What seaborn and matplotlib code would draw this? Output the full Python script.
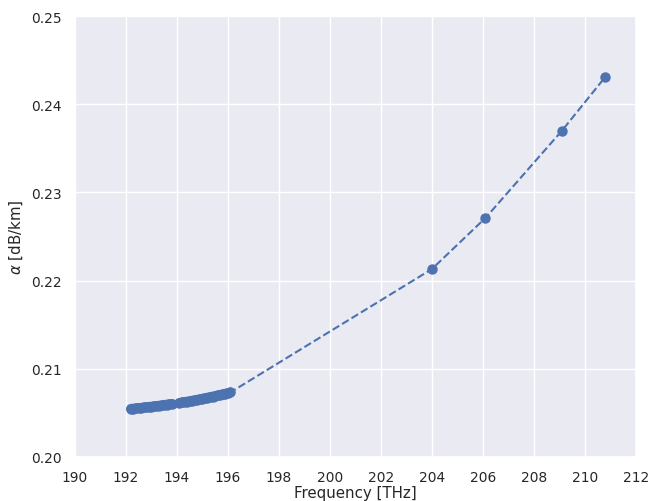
import numpy as np
import seaborn as sns
import matplotlib.pyplot as plt

sns.set_theme(font_scale=0.9)

freq_low = [192.2, 192.3, 192.4, 192.5, 192.6, 192.7, 192.8, 192.9, 193.0, 193.1,
            193.2, 193.3, 193.4, 193.5, 193.6, 193.7, 193.8]
alpha_low = [0.20545, 0.20548, 0.20551, 0.20554, 0.20557, 0.20560, 0.20563, 0.20567,
             0.20570, 0.20574, 0.20577, 0.20581, 0.20585, 0.20589, 0.20593, 0.20597, 0.20601]
freq_high = [194.1, 194.2, 194.3, 194.4, 194.5, 194.6, 194.7, 194.8, 194.9, 195.0,
             195.1, 195.2, 195.3, 195.4, 195.5, 195.6, 195.7, 195.8, 195.9, 196.0, 196.1]
alpha_high = [0.20612, 0.20617, 0.20622, 0.20627, 0.20632, 0.20637, 0.20643, 0.20648,
              0.20654, 0.20660, 0.20666, 0.20672, 0.20678, 0.20684, 0.20690, 0.20697,
              0.20703, 0.20710, 0.20717, 0.20724, 0.20731]
freq_ext = [204.0, 206.1, 209.1, 210.8]
alpha_ext = [0.2213, 0.2271, 0.2370, 0.2431]

freq = freq_low + freq_high + freq_ext
alpha = alpha_low + alpha_high + alpha_ext

fig, ax = plt.subplots(figsize=(6.68, 5.02), dpi=100)
c = sns.color_palette()[0]
ax.plot(freq, alpha, '--', color=c, linewidth=1.5)
ax.plot(freq, alpha, 'o', color=c, markersize=6.5)
# fill the dense channel grid so it reads as a solid band like the reference
ax.plot(freq_low, alpha_low, '-', color=c, linewidth=7, solid_capstyle='round')
ax.plot(freq_high, alpha_high, '-', color=c, linewidth=7, solid_capstyle='round')
ax.set_xlim(190, 212)
ax.set_ylim(0.20, 0.25)
ax.set_xticks(np.arange(190, 213, 2))
ax.set_xlabel('Frequency [THz]', labelpad=1)
ax.set_ylabel(r'$\alpha$ [dB/km]')
fig.subplots_adjust(left=0.112, right=0.952, bottom=0.088, top=0.966)
fig.savefig('out.png')
